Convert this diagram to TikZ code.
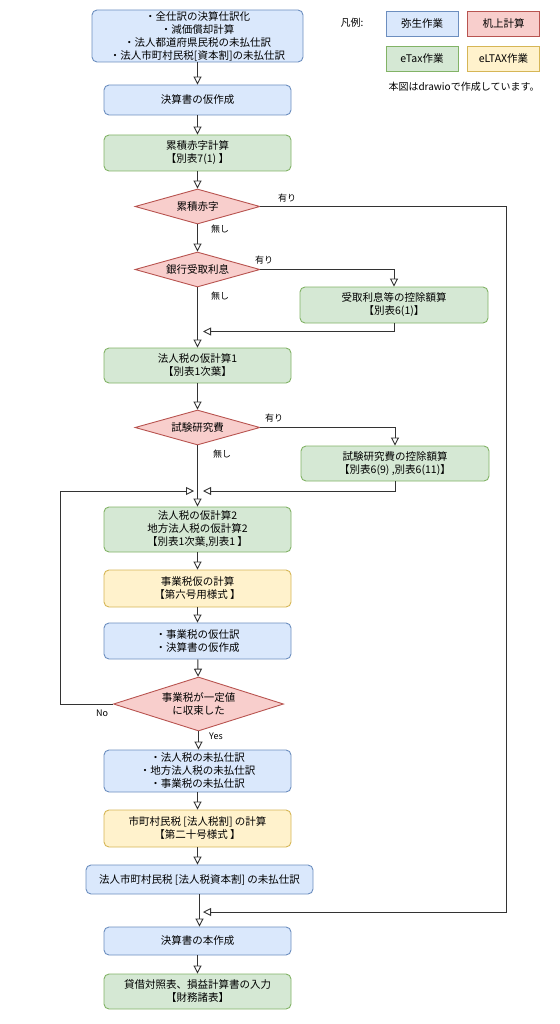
\documentclass[tikz,border=0pt]{standalone}
\usepackage{fontspec}
\setmainfont{Noto Sans CJK JP}
\usetikzlibrary{arrows.meta,shapes.geometric}
\definecolor{bfill}{HTML}{DAE8FC}\definecolor{bdraw}{HTML}{6C8EBF}
\definecolor{rfill}{HTML}{F8CECC}\definecolor{rdraw}{HTML}{B85450}
\definecolor{gfill}{HTML}{D5E8D4}\definecolor{gdraw}{HTML}{82B366}
\definecolor{yfill}{HTML}{FFF2CC}\definecolor{ydraw}{HTML}{D6B656}
\definecolor{edge}{HTML}{333333}
\tikzset{
  base/.style={font=\fontsize{10.5}{13}\selectfont, align=center, inner sep=0pt, line width=0.9pt},
  box/.style={base, rectangle, rounded corners=5pt, minimum width=187pt},
  blu/.style={fill=bfill, draw=bdraw},
  red/.style={fill=rfill, draw=rdraw},
  grn/.style={fill=gfill, draw=gdraw},
  yel/.style={fill=yfill, draw=ydraw},
  dia/.style={base, diamond, aspect=3.57, red, minimum width=125pt, minimum height=35pt},
  leg/.style={base, rectangle, minimum width=72pt, minimum height=25pt},
  arr/.style={draw=edge, line width=0.9pt, -{Triangle[open, length=8pt, width=8pt]}},
  lbl/.style={font=\fontsize{9}{11}\selectfont, inner sep=0pt},
}
\begin{document}
\begin{tikzpicture}[x=1pt, y=-1pt]
\useasboundingbox (0,0) rectangle (559,1024);
% legend
\node[lbl, font=\fontsize{10}{12}\selectfont] (lg) at (352,23) {凡例:};
\node[leg, blu] (l1) at (422,23.5) {弥生作業};
\node[leg, red] (l2) at (503.5,23.5) {机上計算};
\node[leg, grn] (l3) at (422,58.5) {eTax作業};
\node[leg, yel] (l4) at (503.5,58.5) {eLTAX作業};
\node[lbl, font=\fontsize{10}{12}\selectfont] (note) at (464,87) {本図はdrawioで作成しています。};
% main flow
\node[box, blu, minimum width=211pt, minimum height=52pt] (b1) at (197.5,36) {・全仕訳の決算仕訳化\\・減価償却計算\\・法人都道府県民税の未払仕訳\\・法人市町村民税[資本割]の未払仕訳};
\node[box, blu, minimum height=30pt] (b2) at (197.5,100) {決算書の仮作成};
\node[box, grn, minimum height=36pt] (b3) at (197.5,153) {累積赤字計算\\【別表7(1) 】};
\node[dia] (d1) at (197.5,206.5) {累積赤字};
\node[dia] (d2) at (197.5,269.5) {銀行受取利息};
\node[box, grn, minimum width=188pt, minimum height=36pt] (b4) at (394,305) {受取利息等の控除額算\\【別表6(1)】};
\node[box, grn, minimum height=35pt] (b5) at (197.5,365.5) {法人税の仮計算1\\【別表1次葉】};
\node[dia] (d3) at (197.5,427.5) {試験研究費};
\node[box, grn, minimum width=188pt, minimum height=35pt] (b6) at (395,463.5) {試験研究費の控除額算\\【別表6(9) ,別表6(11)】};
\node[box, grn, minimum height=45pt] (b7) at (197.5,529.5) {法人税の仮計算2\\地方法人税の仮計算2\\【別表1次葉,別表1 】};
\node[box, yel, minimum height=37pt] (b8) at (197.5,588.5) {事業税仮の計算\\【第六号用様式 】};
\node[box, blu, minimum height=36pt] (b9) at (197.5,641) {・事業税の仮仕訳\\・決算書の仮作成};
\node[dia, minimum width=170pt, minimum height=54pt, aspect=3.15] (d4) at (198.5,704) {事業税が一定値\\に収束した};
\node[box, blu, minimum height=42pt] (b10) at (197.5,771) {・法人税の未払仕訳\\・地方法人税の未払仕訳\\・事業税の未払仕訳};
\node[box, yel, minimum height=37pt] (b11) at (197.5,828.5) {市町村民税 [法人税割] の計算\\【第二十号様式 】};
\node[box, blu, minimum width=227pt, minimum height=29pt] (b12) at (199.5,879.5) {法人市町村民税 [法人税資本割] の未払仕訳};
\node[box, blu, minimum height=28pt] (b13) at (197.5,941) {決算書の本作成};
\node[box, grn, minimum height=35pt] (b14) at (197.5,991.5) {貸借対照表、損益計算書の入力\\【財務諸表】};
% coordinates
\coordinate (m1) at (203,331.5);
\coordinate (m2) at (203,491);
\coordinate (m3) at (194,491);
\coordinate (m4) at (203,912);
\coordinate (c1) at (506,206.5);
\coordinate (c2) at (60,704);
% edges
\draw[arr] (b1) -- (b2);
\draw[arr] (b2) -- (b3);
\draw[arr] (b3) -- (d1);
\draw[arr] (d1) -- (d2);
\draw[arr] (d2) -- (b5);
\draw[arr] (d2.east) -| (b4.north);
\draw[arr] (b4.south) |- (m1);
\draw[arr] (b5) -- (d3);
\draw[arr] (d3) -- (b7);
\draw[arr] (d3.east) -| (b6.north);
\draw[arr] (b6.south) |- (m2);
\draw[arr] (d4.west) -- (c2) |- (m3);
\draw[arr] (b7) -- (b8);
\draw[arr] (b8) -- (b9);
\draw[arr] (b9) -- (d4);
\draw[arr] (d4.south) -- (d4.south |- b10.north);
\draw[arr] (b10) -- (b11);
\draw[arr] (b11) -- (b11.south |- b12.north);
\draw[arr] (b12.south) -- (b12.south |- b13.north);
\draw[arr] (d1.east) -- (c1) |- (m4);
\draw[arr] (b13) -- (b14);
% labels
\node[lbl] (t1) at (287,198) {有り};
\node[lbl] (t2) at (220,229) {無し};
\node[lbl] (t3) at (264,260) {有り};
\node[lbl] (t4) at (220,296) {無し};
\node[lbl] (t5) at (274,418) {有り};
\node[lbl] (t6) at (222,454) {無し};
\node[lbl] (t7) at (102,713) {No};
\node[lbl] (t8) at (216,736) {Yes};
\end{tikzpicture}
\end{document}
